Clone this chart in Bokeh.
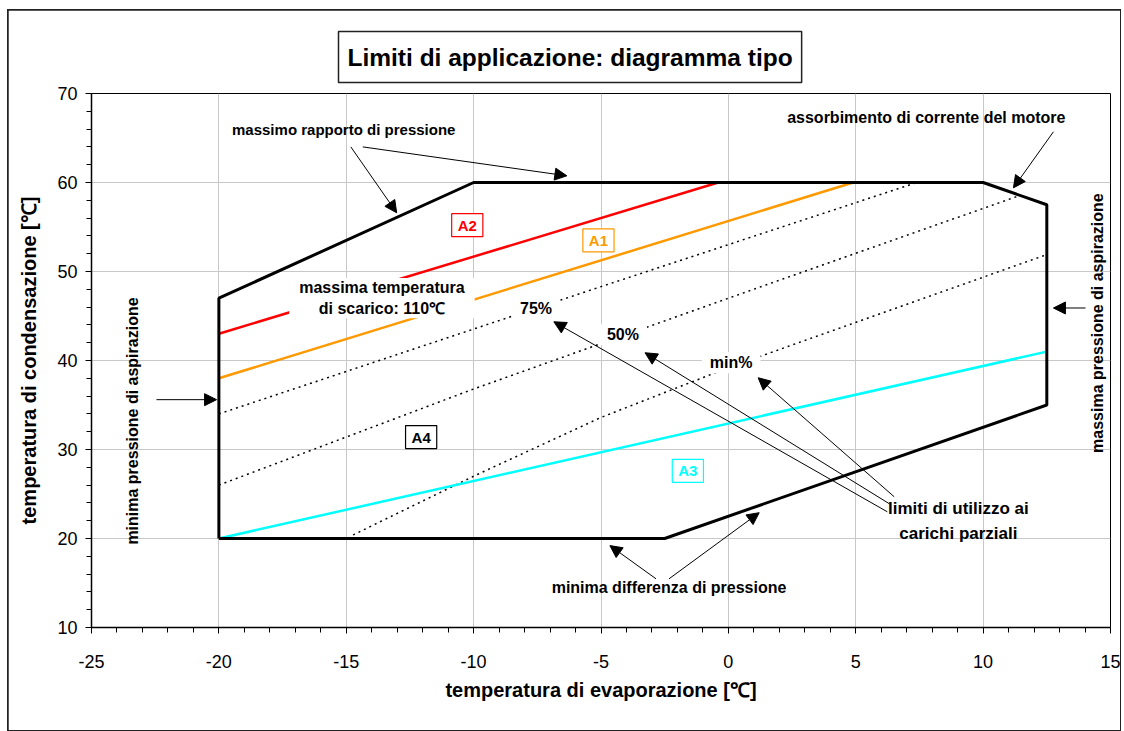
from bokeh.plotting import figure
from bokeh.models import (Label, Arrow, NormalHead, Range1d, SingleIntervalTicker,
                          CustomJSTickFormatter)
from bokeh.embed import file_html
from bokeh.resources import INLINE
import math

# ---------------- data ----------------
# application envelope (evaporation temp, condensation temp)
env_x = [-20, -20, -10, 10, 12.5, 12.5, -2.5, -20]
env_y = [20, 47, 60, 60, 57.5, 35, 20, 20]
# A2 limit (red)
a2_x = [-20, -0.4]
a2_y = [43, 60]
# A1 limit (orange)
a1_x = [-20, 4.9]
a1_y = [38, 60]
# A3 limit (cyan)
a3_x = [-20, 12.5]
a3_y = [20, 41]
# partial load limits (dotted)
p75_x = [-20, -5, 7.4]
p75_y = [34, 48.3, 60]
p50_x = [-20, -10, 0, 11.4]
p50_y = [26, 36.8, 47.0, 58.5]
pmin_x = [-14.73, -10, -5, 0, 12.5]
pmin_y = [20.4, 27.0, 33.6, 39.2, 51.9]

title_text = "Limiti di applicazione: diagramma tipo"
x_title = "temperatura di evaporazione [℃]"
y_title = "temperatura di condensazione [℃]"

FONT = "Liberation Sans"
NOTE_SIZE = "16px"

p = figure(width=1112, height=720,
           x_range=Range1d(-25, 15), y_range=Range1d(10, 70),
           output_backend="svg", toolbar_location=None,
           min_border_left=83, min_border_right=10,
           min_border_top=83, min_border_bottom=103)
p.styles = {"margin-left": "8px", "margin-top": "10px",
            "outline": "2px solid #222", "outline-offset": "-1px"}

p.background_fill_color = "white"
p.border_fill_color = "white"
p.outline_line_color = "black"
p.outline_line_width = 1

# title in a box
p.title.text = title_text
p.title.align = "left"
p.title.offset = 247
p.title.standoff = 22
p.title.text_font = FONT
p.title.text_font_size = "24.5px"
p.title.text_font_style = "bold"
p.title.text_color = "black"
p.title.border_line_color = "#222"
p.title.border_line_width = 1.5
p.title.background_fill_color = "white"
p.title.padding = (9, 12)

fmt = CustomJSTickFormatter(code="return tick.toString();")
p.xaxis.ticker = SingleIntervalTicker(interval=5, num_minor_ticks=5)
p.yaxis.ticker = SingleIntervalTicker(interval=10, num_minor_ticks=5)
for ax in (p.xaxis, p.yaxis):
    ax.formatter = fmt
    ax.axis_line_color = "black"
    ax.axis_line_width = 1.5
    ax.major_tick_line_color = "black"
    ax.minor_tick_line_color = "black"
    ax.major_tick_in = 0
    ax.major_tick_out = 6
    ax.minor_tick_in = 0
    ax.minor_tick_out = 5
    ax.major_label_text_font = FONT
    ax.major_label_text_font_size = "18px"
    ax.major_label_text_color = "black"
    ax.axis_label_text_font = FONT
    ax.axis_label_text_font_size = "20px"
    ax.axis_label_text_font_style = "bold"
    ax.axis_label_text_color = "black"
p.xaxis.major_label_standoff = 21
p.yaxis.major_label_standoff = 8
p.xaxis.axis_label = x_title
p.yaxis.axis_label = y_title
p.xaxis.axis_label_standoff = 8
p.yaxis.axis_label_standoff = 14

p.xgrid.grid_line_color = "#c8c8c8"
p.ygrid.grid_line_color = "#c8c8c8"
p.xgrid.grid_line_width = 1
p.ygrid.grid_line_width = 1

# lines
p.line(a2_x, a2_y, line_color="#ff0000", line_width=2.5)
p.line(a1_x, a1_y, line_color="#ff9900", line_width=2.5)
for xs, ys in ((p75_x, p75_y), (p50_x, p50_y), (pmin_x, pmin_y)):
    p.line(xs, ys, line_color="black", line_width=1.5, line_dash="2 4")
p.line(a3_x, a3_y, line_color="#00ffff", line_width=2.5)
p.line(env_x, env_y, line_color="black", line_width=3)


def note(x, y, text, angle=0.0, bg=None, pad=0, lh=1.2, color="black", border=None, size=NOTE_SIZE):
    lab = Label(x=x, y=y, text=text, text_align="center", text_baseline="middle",
                text_font=FONT, text_font_size=size, text_font_style="bold",
                text_color=color, angle=angle, text_line_height=lh)
    if bg:
        lab.background_fill_color = bg
        lab.padding = pad
    if border:
        lab.border_line_color = border
        lab.border_line_width = 1.2
    p.add_layout(lab)


# region tags
note(-10.25, 55.2, "A2", bg="white", pad=(6, 3), color="#ff0000", border="#ff0000", size="15px")
note(-5.10, 53.5, "A1", bg="white", pad=(6, 3), color="#ff9900", border="#ff9900", size="15px")
note(-12.06, 31.4, "A4", bg="white", pad=(6, 3), color="black", border="black", size="15px")
note(-1.59, 27.6, "A3", bg="white", pad=(6, 3), color="#00ffff", border="#00ffff", size="15px")

# annotation texts
note(-15.1, 66.0, "massimo rapporto di pressione", size="15px")
note(7.77, 67.3, "assorbimento di corrente del motore")
note(-13.6, 47.0, "massima temperatura\ndi scarico: 110℃", bg="white", pad=(10, 1), lh=1.25)
note(-7.55, 45.8, "75%", bg="white", pad=(8, 2))
note(-4.14, 42.9, "50%", bg="white", pad=(8, 2))
note(0.11, 39.75, "min%", bg="white", pad=(8, 2))
note(9.03, 22.0, "limiti di utilizzo ai\ncarichi parziali", lh=1.3, size="17px")
note(-2.33, 14.46, "minima differenza di pressione")
note(-23.41, 33.2, "minima pressione di aspirazione", angle=math.pi / 2)
note(14.49, 44.2, "massima pressione di aspirazione", angle=math.pi / 2)

# arrows (start x, start y, tip x, tip y)
arrows = [
    (-14.82, 64.0, -13.02, 56.6),
    (-14.35, 64.0, -6.34, 60.75),
    (12.76, 65.7, 11.19, 59.4),
    (-22.45, 35.6, -20.09, 35.6),
    (14.02, 45.9, 12.76, 45.9),
    (-2.84, 15.47, -4.65, 19.2),
    (-2.33, 15.47, 1.21, 22.9),
    (6.24, 23.0, -6.85, 44.35),
    (6.32, 23.9, -3.27, 40.87),
    (6.51, 24.69, 1.17, 38.06),
]
for xs, ys, xe, ye in arrows:
    p.add_layout(Arrow(x_start=xs, y_start=ys, x_end=xe, y_end=ye,
                       line_color="black", line_width=1,
                       end=NormalHead(size=12, fill_color="black", line_color="black")))

open("out.html", "w").write(file_html(p, INLINE))
